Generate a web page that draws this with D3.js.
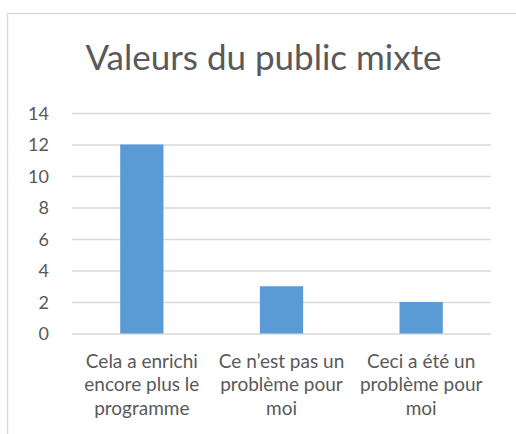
<!DOCTYPE html>
<html>
<head>
<meta charset="utf-8">
<script src="https://cdn.jsdelivr.net/npm/d3@7"></script>
<style>
  body { margin: 0; background: #fff; }
  svg text { font-family: Lato, "Open Sans", sans-serif; fill: #595959; }
</style>
</head>
<body>
<script>
// Chart data
var title = 'Valeurs du public mixte';
var categoryLines = [
    ['Cela a enrichi', 'encore plus le', 'programme'],
    ['Ce n\u2019est pas un', 'probl\u00e8me pour', 'moi'],
    ['Ceci a \u00e9t\u00e9 un', 'probl\u00e8me pour', 'moi']
];
var categories = categoryLines.map(function (l) { return l.join(' '); });
var values = [12, 3, 2];
var yTicks = [0, 2, 4, 6, 8, 10, 12, 14];

// Layout
var W = 516, H = 434;
var plot = { left: 72, right: 491, top: 113, bottom: 333.5 };

var svg = d3.select('body').append('svg')
    .attr('width', W)
    .attr('height', H);

// chart frame (runs off the right and bottom edges)
svg.append('rect')
    .attr('x', 7.5).attr('y', 13.5)
    .attr('width', 540).attr('height', 440)
    .attr('fill', '#fff')
    .attr('stroke', '#d9d9d9')
    .attr('stroke-width', 1.3);

svg.append('text')
    .attr('x', 263.5).attr('y', 70)
    .attr('text-anchor', 'middle')
    .style('font-size', '35px')
    .text(title);

var x = d3.scaleBand()
    .domain(categories)
    .range([plot.left, plot.right])
    .paddingInner(0.69)
    .paddingOuter(0.345);

var y = d3.scaleLinear()
    .domain([0, 14])
    .range([plot.bottom, plot.top]);

// gridlines
var grid = svg.append('g')
    .attr('transform', 'translate(' + plot.left + ',0)')
    .call(d3.axisLeft(y).tickValues(yTicks)
        .tickSize(-(plot.right - plot.left)).tickFormat(''));
grid.select('.domain').remove();
grid.selectAll('line').attr('stroke', '#d9d9d9').attr('stroke-width', 1.3);

// y labels
var ya = svg.append('g')
    .attr('transform', 'translate(49,0)')
    .call(d3.axisLeft(y).tickValues(yTicks).tickSize(0).tickPadding(0));
ya.select('.domain').remove();
ya.selectAll('text')
    .style('font-size', '18px')
    .style('font-family', 'Lato, sans-serif')
    .attr('fill', '#595959')
    .attr('dy', '0.36em');

// bars
svg.selectAll('rect.bar')
    .data(values)
    .enter()
    .append('rect')
    .attr('class', 'bar')
    .attr('x', function (d, i) { return x(categories[i]); })
    .attr('y', function (d) { return y(d); })
    .attr('width', x.bandwidth())
    .attr('height', function (d) { return y(0) - y(d); })
    .attr('fill', '#5b9bd5');

// category labels
var cat = svg.selectAll('text.cat')
    .data(categoryLines)
    .enter()
    .append('text')
    .attr('class', 'cat')
    .attr('text-anchor', 'middle')
    .style('font-size', '19px')
    .attr('transform', function (d, i) {
        return 'translate(' + (x(categories[i]) + x.bandwidth() / 2) + ',368)';
    });

cat.selectAll('tspan')
    .data(function (d) { return d; })
    .enter()
    .append('tspan')
    .attr('x', 0)
    .attr('y', function (d, i) { return i * 23.3; })
    .text(function (d) { return d; });
</script>
</body>
</html>
